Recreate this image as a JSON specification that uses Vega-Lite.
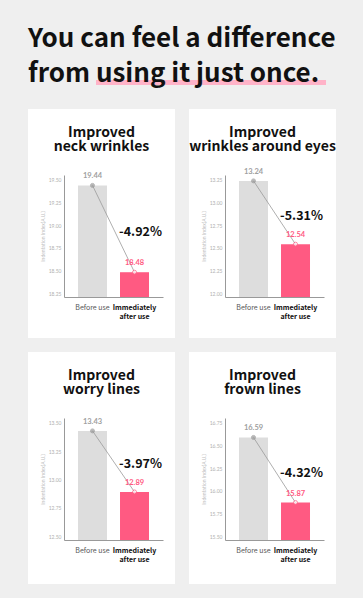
{
  "$schema": "https://vega.github.io/schema/vega-lite/v6.json",
  "background": "#efefef",
  "padding": {"left": 28, "top": 26, "right": 27, "bottom": 15},
  "config": {"view": {"stroke": null}, "font": "Noto Sans CJK KR"},
  "datasets": {
    "neck": [
      {"stage": "Before use", "value": 19.44, "change": "-4.92%"},
      {"stage": "Immediately after use", "value": 18.48, "change": "-4.92%"}
    ],
    "eyes": [
      {"stage": "Before use", "value": 13.24, "change": "-5.31%"},
      {"stage": "Immediately after use", "value": 12.54, "change": "-5.31%"}
    ],
    "worry": [
      {"stage": "Before use", "value": 13.43, "change": "-3.97%"},
      {"stage": "Immediately after use", "value": 12.89, "change": "-3.97%"}
    ],
    "frown": [
      {"stage": "Before use", "value": 16.59, "change": "-4.32%"},
      {"stage": "Immediately after use", "value": 15.87, "change": "-4.32%"}
    ],
    "headline": [{"phrase": "using it just once."}]
  },
  "spacing": 22,
  "resolve": {"scale": {"x": "independent", "y": "independent"}},
  "vconcat": [
    {
      "data": {"name": "headline"},
      "width": 305,
      "height": 5,
      "view": {"fill": null, "stroke": null},
      "title": {
        "text": ["You can feel a difference", "from using it just once."],
        "anchor": "start",
        "frame": "group",
        "offset": -7,
        "fontSize": 26,
        "fontWeight": "bold",
        "color": "#111111",
        "lineHeight": 35
      },
      "mark": {"type": "rect", "color": "#ffb3c8"},
      "encoding": {
        "x": {"field": "phrase", "type": "nominal", "axis": null,
          "scale": {"range": [68, 298], "paddingInner": 0, "paddingOuter": 0}}
      }
    },
    {
      "spacing": 14,
      "resolve": {"scale": {"x": "independent", "y": "independent"}},
      "vconcat": [
        {
          "hconcat": [
            {
              "width": 147, "height": 229,
              "view": {"fill": "white", "stroke": null},
              "data": {"name": "neck"},
              "title": {"text": ["Improved", "neck wrinkles"], "fontSize": 14, "fontWeight": "bold", "color": "#111111", "lineHeight": 14, "anchor": "middle", "frame": "group", "offset": -45},
              "encoding": {
                "x": {"field": "stage", "type": "nominal", "sort": null,
                  "scale": {"domain": ["Before use", "Immediately after use"], "range": [36, 135], "paddingInner": 0.31, "paddingOuter": 0.333},
                  "axis": {"title": null, "domainColor": "#999999", "ticks": false, "tickSize": 0, "grid": false, "labelAngle": 0, "labelPadding": 6, "labelFontSize": 7, "labelFont": "Noto Sans CJK KR", "labelLineHeight": 9,
                    "labelExpr": "datum.value == 'Immediately after use' ? ['Immediately', 'after use'] : datum.value",
                    "labelFontWeight": {"condition": {"test": "datum.value == 'Immediately after use'", "value": "bold"}, "value": "normal"},
                    "labelColor": {"condition": {"test": "datum.value == 'Immediately after use'", "value": "#111111"}, "value": "#555555"},
                    "offset": -41}},
                "y": {"field": "value", "type": "quantitative", "title": "Indentation Index(A.U.)",
                  "scale": {"domain": [18.206, 19.555], "range": [188, 66], "nice": false, "zero": false},
                  "axis": {"values": [18.25, 18.5, 18.75, 19, 19.25, 19.5], "format": ".2f", "ticks": false, "tickSize": 0, "grid": false, "domainColor": "#999999", "labelFontSize": 5, "labelFont": "Lato", "labelColor": "#b0b0b0", "labelPadding": 3, "titleFontSize": 5, "titleFont": "Lato", "titleFontWeight": "normal", "titleColor": "#c0c0c0", "titlePadding": 3, "offset": -36}}
              },
              "layer": [
                {"mark": {"type": "bar"}, "encoding": {"y2": {"datum": 18.206}, "color": {"condition": {"test": "datum.stage === 'Before use'", "value": "#dddddd"}, "value": "#ff5a82"}}},
                {"mark": {"type": "line", "color": "#9a9a9a", "strokeWidth": 0.8}, "encoding": {}},
                {"mark": {"type": "point", "filled": true, "size": 16, "strokeWidth": 1}, "encoding": {"fill": {"condition": {"test": "datum.stage === 'Before use'", "value": "#999999"}, "value": "#ffffff"}, "stroke": {"condition": {"test": "datum.stage === 'Before use'", "value": "#999999"}, "value": "#ff5a82"}}},
                {"mark": {"type": "text", "baseline": "middle", "dy": -9, "fontSize": 7.5, "font": "Lato", "fontWeight": "bold"}, "encoding": {"text": {"field": "value", "type": "quantitative", "format": ".2f"}, "color": {"condition": {"test": "datum.stage === 'Before use'", "value": "#a0a0a0"}, "value": "#ff5a82"}}},
                {"transform": [{"joinaggregate": [{"op": "mean", "field": "value", "as": "mid"}]}, {"filter": "datum.stage !== 'Before use'"}],
                 "mark": {"type": "text", "baseline": "middle", "dx": 6, "dy": 3, "fontSize": 12.5, "fontWeight": "bold", "color": "#111111"},
                 "encoding": {"y": {"field": "mid", "type": "quantitative", "title": "Indentation Index(A.U.)"}, "text": {"field": "change"}}}
              ]
            },
            {
              "width": 147, "height": 229,
              "view": {"fill": "white", "stroke": null},
              "data": {"name": "eyes"},
              "title": {"text": ["Improved", "wrinkles around eyes"], "fontSize": 14, "fontWeight": "bold", "color": "#111111", "lineHeight": 14, "anchor": "middle", "frame": "group", "offset": -45},
              "encoding": {
                "x": {"field": "stage", "type": "nominal", "sort": null,
                  "scale": {"domain": ["Before use", "Immediately after use"], "range": [36, 135], "paddingInner": 0.31, "paddingOuter": 0.333},
                  "axis": {"title": null, "domainColor": "#999999", "ticks": false, "tickSize": 0, "grid": false, "labelAngle": 0, "labelPadding": 6, "labelFontSize": 7, "labelFont": "Noto Sans CJK KR", "labelLineHeight": 9,
                    "labelExpr": "datum.value == 'Immediately after use' ? ['Immediately', 'after use'] : datum.value",
                    "labelFontWeight": {"condition": {"test": "datum.value == 'Immediately after use'", "value": "bold"}, "value": "normal"},
                    "labelColor": {"condition": {"test": "datum.value == 'Immediately after use'", "value": "#111111"}, "value": "#555555"},
                    "offset": -41}},
                "y": {"field": "value", "type": "quantitative", "title": "Indentation Index(A.U.)",
                  "scale": {"domain": [11.956, 13.305], "range": [188, 66], "nice": false, "zero": false},
                  "axis": {"values": [12, 12.25, 12.5, 12.75, 13, 13.25], "format": ".2f", "ticks": false, "tickSize": 0, "grid": false, "domainColor": "#999999", "labelFontSize": 5, "labelFont": "Lato", "labelColor": "#b0b0b0", "labelPadding": 3, "titleFontSize": 5, "titleFont": "Lato", "titleFontWeight": "normal", "titleColor": "#c0c0c0", "titlePadding": 3, "offset": -36}}
              },
              "layer": [
                {"mark": {"type": "bar"}, "encoding": {"y2": {"datum": 11.956}, "color": {"condition": {"test": "datum.stage === 'Before use'", "value": "#dddddd"}, "value": "#ff5a82"}}},
                {"mark": {"type": "line", "color": "#9a9a9a", "strokeWidth": 0.8}, "encoding": {}},
                {"mark": {"type": "point", "filled": true, "size": 16, "strokeWidth": 1}, "encoding": {"fill": {"condition": {"test": "datum.stage === 'Before use'", "value": "#999999"}, "value": "#ffffff"}, "stroke": {"condition": {"test": "datum.stage === 'Before use'", "value": "#999999"}, "value": "#ff5a82"}}},
                {"mark": {"type": "text", "baseline": "middle", "dy": -9, "fontSize": 7.5, "font": "Lato", "fontWeight": "bold"}, "encoding": {"text": {"field": "value", "type": "quantitative", "format": ".2f"}, "color": {"condition": {"test": "datum.stage === 'Before use'", "value": "#a0a0a0"}, "value": "#ff5a82"}}},
                {"transform": [{"joinaggregate": [{"op": "mean", "field": "value", "as": "mid"}]}, {"filter": "datum.stage !== 'Before use'"}],
                 "mark": {"type": "text", "baseline": "middle", "dx": 6, "dy": 3, "fontSize": 12.5, "fontWeight": "bold", "color": "#111111"},
                 "encoding": {"y": {"field": "mid", "type": "quantitative", "title": "Indentation Index(A.U.)"}, "text": {"field": "change"}}}
              ]
            }
          ],
          "spacing": 14,
          "resolve": {"scale": {"x": "independent", "y": "independent"}}
        },
        {
          "hconcat": [
            {
              "width": 147, "height": 232,
              "view": {"fill": "white", "stroke": null},
              "data": {"name": "worry"},
              "title": {"text": ["Improved", "worry lines"], "fontSize": 14, "fontWeight": "bold", "color": "#111111", "lineHeight": 14, "anchor": "middle", "frame": "group", "offset": -45},
              "encoding": {
                "x": {"field": "stage", "type": "nominal", "sort": null,
                  "scale": {"domain": ["Before use", "Immediately after use"], "range": [36, 135], "paddingInner": 0.31, "paddingOuter": 0.333},
                  "axis": {"title": null, "domainColor": "#999999", "ticks": false, "tickSize": 0, "grid": false, "labelAngle": 0, "labelPadding": 6, "labelFontSize": 7, "labelFont": "Noto Sans CJK KR", "labelLineHeight": 9,
                    "labelExpr": "datum.value == 'Immediately after use' ? ['Immediately', 'after use'] : datum.value",
                    "labelFontWeight": {"condition": {"test": "datum.value == 'Immediately after use'", "value": "bold"}, "value": "normal"},
                    "labelColor": {"condition": {"test": "datum.value == 'Immediately after use'", "value": "#111111"}, "value": "#555555"},
                    "offset": -44}},
                "y": {"field": "value", "type": "quantitative", "title": "Indentation Index(A.U.)",
                  "scale": {"domain": [12.465, 13.544], "range": [188, 66], "nice": false, "zero": false},
                  "axis": {"values": [12.5, 12.75, 13, 13.25, 13.5], "format": ".2f", "ticks": false, "tickSize": 0, "grid": false, "domainColor": "#999999", "labelFontSize": 5, "labelFont": "Lato", "labelColor": "#b0b0b0", "labelPadding": 3, "titleFontSize": 5, "titleFont": "Lato", "titleFontWeight": "normal", "titleColor": "#c0c0c0", "titlePadding": 3, "offset": -36}}
              },
              "layer": [
                {"mark": {"type": "bar"}, "encoding": {"y2": {"datum": 12.465}, "color": {"condition": {"test": "datum.stage === 'Before use'", "value": "#dddddd"}, "value": "#ff5a82"}}},
                {"mark": {"type": "line", "color": "#9a9a9a", "strokeWidth": 0.8}, "encoding": {}},
                {"mark": {"type": "point", "filled": true, "size": 16, "strokeWidth": 1}, "encoding": {"fill": {"condition": {"test": "datum.stage === 'Before use'", "value": "#999999"}, "value": "#ffffff"}, "stroke": {"condition": {"test": "datum.stage === 'Before use'", "value": "#999999"}, "value": "#ff5a82"}}},
                {"mark": {"type": "text", "baseline": "middle", "dy": -9, "fontSize": 7.5, "font": "Lato", "fontWeight": "bold"}, "encoding": {"text": {"field": "value", "type": "quantitative", "format": ".2f"}, "color": {"condition": {"test": "datum.stage === 'Before use'", "value": "#a0a0a0"}, "value": "#ff5a82"}}},
                {"transform": [{"joinaggregate": [{"op": "mean", "field": "value", "as": "mid"}]}, {"filter": "datum.stage !== 'Before use'"}],
                 "mark": {"type": "text", "baseline": "middle", "dx": 6, "dy": 3, "fontSize": 12.5, "fontWeight": "bold", "color": "#111111"},
                 "encoding": {"y": {"field": "mid", "type": "quantitative", "title": "Indentation Index(A.U.)"}, "text": {"field": "change"}}}
              ]
            },
            {
              "width": 147, "height": 232,
              "view": {"fill": "white", "stroke": null},
              "data": {"name": "frown"},
              "title": {"text": ["Improved", "frown lines"], "fontSize": 14, "fontWeight": "bold", "color": "#111111", "lineHeight": 14, "anchor": "middle", "frame": "group", "offset": -45},
              "encoding": {
                "x": {"field": "stage", "type": "nominal", "sort": null,
                  "scale": {"domain": ["Before use", "Immediately after use"], "range": [36, 135], "paddingInner": 0.31, "paddingOuter": 0.333},
                  "axis": {"title": null, "domainColor": "#999999", "ticks": false, "tickSize": 0, "grid": false, "labelAngle": 0, "labelPadding": 6, "labelFontSize": 7, "labelFont": "Noto Sans CJK KR", "labelLineHeight": 9,
                    "labelExpr": "datum.value == 'Immediately after use' ? ['Immediately', 'after use'] : datum.value",
                    "labelFontWeight": {"condition": {"test": "datum.value == 'Immediately after use'", "value": "bold"}, "value": "normal"},
                    "labelColor": {"condition": {"test": "datum.value == 'Immediately after use'", "value": "#111111"}, "value": "#555555"},
                    "offset": -44}},
                "y": {"field": "value", "type": "quantitative", "title": "Indentation Index(A.U.)",
                  "scale": {"domain": [15.456, 16.805], "range": [188, 66], "nice": false, "zero": false},
                  "axis": {"values": [15.5, 15.75, 16, 16.25, 16.5, 16.75], "format": ".2f", "ticks": false, "tickSize": 0, "grid": false, "domainColor": "#999999", "labelFontSize": 5, "labelFont": "Lato", "labelColor": "#b0b0b0", "labelPadding": 3, "titleFontSize": 5, "titleFont": "Lato", "titleFontWeight": "normal", "titleColor": "#c0c0c0", "titlePadding": 3, "offset": -36}}
              },
              "layer": [
                {"mark": {"type": "bar"}, "encoding": {"y2": {"datum": 15.456}, "color": {"condition": {"test": "datum.stage === 'Before use'", "value": "#dddddd"}, "value": "#ff5a82"}}},
                {"mark": {"type": "line", "color": "#9a9a9a", "strokeWidth": 0.8}, "encoding": {}},
                {"mark": {"type": "point", "filled": true, "size": 16, "strokeWidth": 1}, "encoding": {"fill": {"condition": {"test": "datum.stage === 'Before use'", "value": "#999999"}, "value": "#ffffff"}, "stroke": {"condition": {"test": "datum.stage === 'Before use'", "value": "#999999"}, "value": "#ff5a82"}}},
                {"mark": {"type": "text", "baseline": "middle", "dy": -9, "fontSize": 7.5, "font": "Lato", "fontWeight": "bold"}, "encoding": {"text": {"field": "value", "type": "quantitative", "format": ".2f"}, "color": {"condition": {"test": "datum.stage === 'Before use'", "value": "#a0a0a0"}, "value": "#ff5a82"}}},
                {"transform": [{"joinaggregate": [{"op": "mean", "field": "value", "as": "mid"}]}, {"filter": "datum.stage !== 'Before use'"}],
                 "mark": {"type": "text", "baseline": "middle", "dx": 6, "dy": 3, "fontSize": 12.5, "fontWeight": "bold", "color": "#111111"},
                 "encoding": {"y": {"field": "mid", "type": "quantitative", "title": "Indentation Index(A.U.)"}, "text": {"field": "change"}}}
              ]
            }
          ],
          "spacing": 14,
          "resolve": {"scale": {"x": "independent", "y": "independent"}}
        }
      ]
    }
  ]
}
